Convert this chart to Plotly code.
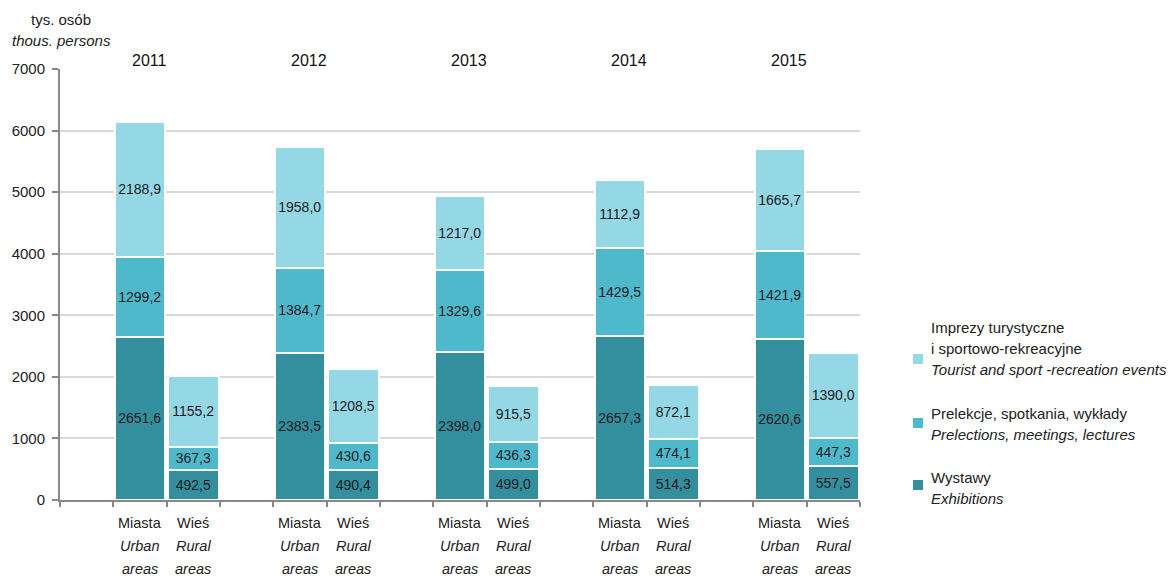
import plotly.graph_objects as go

years = ["2011", "2012", "2013", "2014", "2015"]
area_pl = ["Miasta", "Wieś"]
area_en = ["Urban", "Rural"]

# order per year: urban, rural
exhibitions = [2651.6, 492.5, 2383.5, 490.4, 2398.0, 499.0, 2657.3, 514.3, 2620.6, 557.5]
lectures = [1299.2, 367.3, 1384.7, 430.6, 1329.6, 436.3, 1429.5, 474.1, 1421.9, 447.3]
events = [2188.9, 1155.2, 1958.0, 1208.5, 1217.0, 915.5, 1112.9, 872.1, 1665.7, 1390.0]

y_ticks = [0, 1000, 2000, 3000, 4000, 5000, 6000, 7000]

legend_lines = [
    ["Imprezy turystyczne", "i sportowo-rekreacyjne", "<i>Tourist and sport -recreation events</i>"],
    ["Prelekcje, spotkania, wykłady", "<i>Prelections, meetings, lectures</i>"],
    ["Wystawy", "<i>Exhibitions</i>"],
]

FONT = "Liberation Sans, Arial"
TXT = "#222222"

# plot area in pixels
L, R, T, B = 60, 860, 69, 500

def px(x):
    return (x - L) / (R - L)

def py(y):
    return (B - y) / (B - T)

# slot positions: group of (blank, urban, rural) repeated
xpos = []
for g in range(len(years)):
    xpos += [3 * g + 1, 3 * g + 2]

def fmt(v):
    return f"{v:.1f}".replace(".", ",")

series = [
    ("Wystawy", exhibitions, "#338e9d"),
    ("Prelekcje", lectures, "#4fb9cc"),
    ("Imprezy", events, "#93d8e4"),
]

fig = go.Figure()
for name, vals, col in series:
    fig.add_trace(go.Bar(
        x=xpos, y=vals, name=name,
        marker=dict(color=col, line=dict(color="white", width=2.5)),
        width=0.95,
        text=[fmt(v) for v in vals],
        textposition="inside", insidetextanchor="middle", textangle=0,
        constraintext="none",
        textfont=dict(family=FONT, size=14, color="#1b1b24"),
        hoverinfo="skip", showlegend=False,
    ))

annotations = []
shapes = []
for g, yr in enumerate(years):
    annotations.append(dict(x=3 * g + 1.17, y=1.0, xref="x", yref="paper", yanchor="middle",
                            text=yr, showarrow=False, yshift=9,
                            font=dict(size=16, color="#111", family=FONT)))
    for k in range(2):
        for j, line in enumerate([area_pl[k], f"<i>{area_en[k]}</i>", "<i>areas</i>"]):
            annotations.append(dict(x=3 * g + 1 + k, y=0, xref="x", yref="paper", yanchor="middle",
                                    text=line, showarrow=False, yshift=-(23 + 23 * j),
                                    font=dict(size=14.5, color=TXT, family=FONT)))

# axis unit title
for j, line in enumerate(["tys. osób", "<i>thous. persons</i>"]):
    annotations.append(dict(x=px(61), y=py(19 + 21 * j), xref="paper", yref="paper",
                            xanchor="center", yanchor="middle", text=line, showarrow=False,
                            font=dict(size=15, color=TXT, family=FONT)))

# legend (drawn manually for exact line spacing)
leg_first_line = [327, 413, 477]
leg_marker_y = [359, 423, 485]
leg_colors = ["#93d8e4", "#4fb9cc", "#338e9d"]
for i, lines in enumerate(legend_lines):
    for j, line in enumerate(lines):
        annotations.append(dict(x=px(929), y=py(leg_first_line[i] + 21 * j), xref="paper", yref="paper",
                                xanchor="left", yanchor="middle", text=line, showarrow=False,
                                font=dict(size=15, color=TXT, family=FONT)))
    my = leg_marker_y[i]
    shapes.append(dict(type="rect", xref="paper", yref="paper",
                       x0=px(913), x1=px(923), y0=py(my + 5), y1=py(my - 5),
                       fillcolor=leg_colors[i], line=dict(width=0)))

fig.update_layout(
    width=1168, height=576,
    barmode="stack", bargap=0,
    paper_bgcolor="white", plot_bgcolor="white",
    margin=dict(l=L, r=1168 - R, t=T, b=576 - B, autoexpand=False),
    font=dict(family=FONT, size=15, color=TXT),
    xaxis=dict(range=[-0.5, 14.5], tickvals=[i + 0.5 for i in range(-1, 15)], ticktext=[""] * 16,
               ticks="outside", ticklen=5, tickcolor="#888", tickwidth=2,
               showline=True, linecolor="#888", linewidth=2, showgrid=False, zeroline=False),
    yaxis=dict(range=[0, 7000], tickvals=y_ticks, ticks="outside", ticklen=6, tickcolor="#888",
               tickwidth=2, showline=True, linecolor="#888", linewidth=2, ticklabelstandoff=4,
               showgrid=True, gridcolor="#d9d9d9", gridwidth=2, zeroline=False,
               tickfont=dict(size=15, color=TXT, family=FONT)),
    annotations=annotations,
    shapes=shapes,
    showlegend=False,
)

fig.write_html("out.html", post_script="document.body.style.margin='0';",
               config={"displayModeBar": False})
